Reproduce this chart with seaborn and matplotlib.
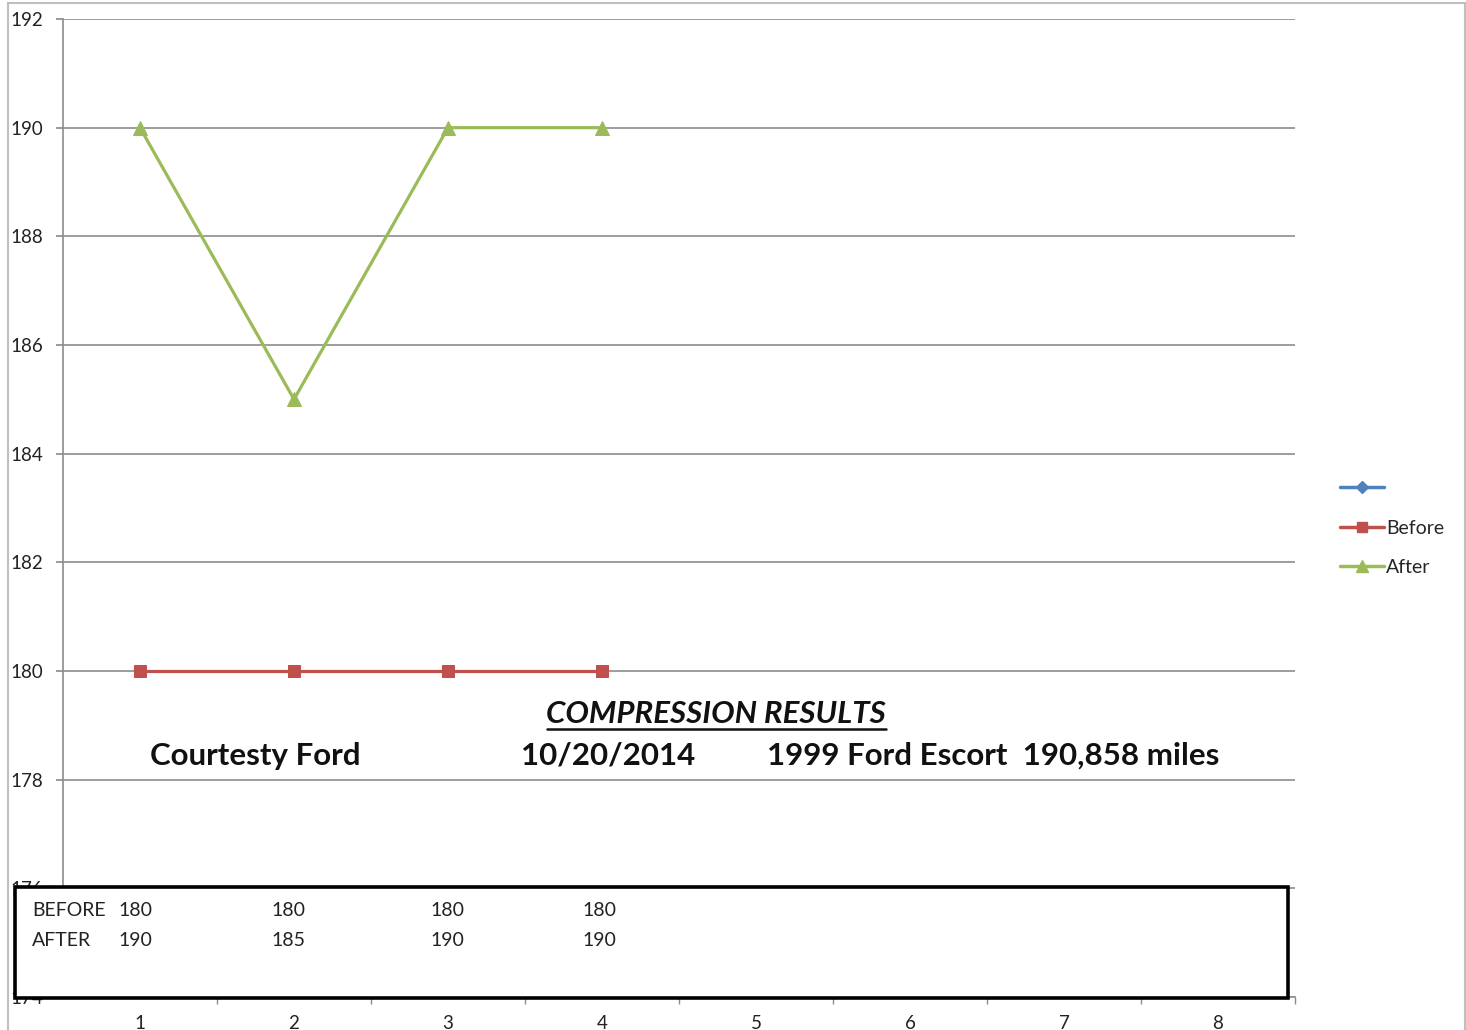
"""
Compression test chart - 1999 Ford Escort (Excel-style line chart rebuilt with seaborn).
"""
import pandas as pd
import matplotlib
matplotlib.use("Agg")
import matplotlib.pyplot as plt
from matplotlib.lines import Line2D
from matplotlib.patches import Rectangle
import seaborn as sns

# Data
cylinders = [1, 2, 3, 4]
before = [180, 180, 180, 180]
after = [190, 185, 190, 190]
x_ticks = [1, 2, 3, 4, 5, 6, 7, 8]
y_ticks = [174, 176, 178, 180, 182, 184, 186, 188, 190, 192]

BLUE = "#4F81BD"
RED = "#C0504D"
GREEN = "#9BBB59"
GRID = "#8C8C8C"

sns.set_theme(style="white")
plt.rcParams["font.family"] = ["Lato", "DejaVu Sans"]

df = pd.DataFrame({
    "cylindre": cylinders * 2,
    "pression": before + after,
    "serie": ["Before"] * 4 + ["After"] * 4,
})

fig = plt.figure(figsize=(14.66, 10.30), dpi=100)
ax = fig.add_axes([63 / 1466, 1 - 997 / 1030, (1295 - 63) / 1466, (997 - 19) / 1030])

sns.lineplot(data=df[df.serie == "Before"], x="cylindre", y="pression", color=RED,
             marker="s", markersize=9, markeredgecolor=RED, linewidth=2.3, ax=ax)
sns.lineplot(data=df[df.serie == "After"], x="cylindre", y="pression", color=GREEN,
             marker="^", markersize=10, markeredgecolor=GREEN, linewidth=2.3, ax=ax)

ax.set_xlim(0.5, 8.5)
ax.set_ylim(174, 192)
ax.set_yticks(y_ticks)
ax.set_yticklabels([str(v) for v in y_ticks], fontsize=13.5, color="#222222")
ax.set_xticks(x_ticks)
ax.set_xticklabels([str(v) for v in x_ticks], fontsize=13.5, color="#222222")
ax.set_xticks([1.5 + i for i in range(8)], minor=True)
ax.tick_params(axis="x", which="major", length=0, pad=13)
ax.tick_params(axis="x", which="minor", length=5, color=GRID, direction="out", bottom=True)
ax.tick_params(axis="y", length=5, color=GRID, direction="out", left=True, pad=9)
ax.set_xlabel("")
ax.set_ylabel("")
ax.yaxis.grid(True, color=GRID, linewidth=1.2)
for s in ["top", "right"]:
    ax.spines[s].set_visible(False)
for s in ["left", "bottom"]:
    ax.spines[s].set_color(GRID)
    ax.spines[s].set_linewidth(1.2)

# legende (serie bleue sans nom)
handles = [
    Line2D([], [], color=BLUE, marker="D", markersize=6, linewidth=2.5),
    Line2D([], [], color=RED, marker="s", markersize=7, linewidth=2.5),
    Line2D([], [], color=GREEN, marker="^", markersize=8, linewidth=2.5),
]
fig.legend(handles, ["", "Before", "After"], loc="center left",
           bbox_to_anchor=(1322 / 1466, 1 - 528 / 1030), frameon=False,
           fontsize=14, handlelength=2.3, handletextpad=0.1, labelspacing=1.15)

# textes
fig.text(716 / 1466, 1 - 714 / 1030, "COMPRESSION RESULTS", ha="center", va="center",
         fontsize=22.5, fontweight="bold", fontstyle="italic", color="#111111")
fig.add_artist(Line2D([547 / 1466, 886 / 1466], [1 - 729 / 1030] * 2,
                      color="#111111", linewidth=1.8, transform=fig.transFigure))
line2_y = 1 - 756 / 1030
fig.text(150 / 1466, line2_y, "Courtesty Ford", ha="left", va="center",
         fontsize=22.5, fontweight="bold", color="#111111")
fig.text(521 / 1466, line2_y, "10/20/2014", ha="left", va="center",
         fontsize=22.5, fontweight="bold", color="#111111")
fig.text(767 / 1466, line2_y, "1999 Ford Escort  190,858 miles", ha="left", va="center",
         fontsize=22.5, fontweight="bold", color="#111111")

# encadre des valeurs
fig.add_artist(Rectangle((15 / 1466, 1 - 998 / 1030), (1288 - 15) / 1466, (998 - 887) / 1030,
                         transform=fig.transFigure, facecolor="white", edgecolor="black",
                         linewidth=2.6))
cols_x = [118, 271, 430, 582]
for label, vals, yy in [("BEFORE", before, 911), ("AFTER", after, 941)]:
    fig.text(32 / 1466, 1 - yy / 1030, label, ha="left", va="center", fontsize=14, color="#222222")
    for cx, v in zip(cols_x, vals):
        fig.text(cx / 1466, 1 - yy / 1030, str(v), ha="left", va="center", fontsize=14, color="#222222")

# cadre du graphique
fig.add_artist(Rectangle((8 / 1466, -0.01), (1465 - 8) / 1466, 1 - 3 / 1030 + 0.01,
                         transform=fig.transFigure, facecolor="none", edgecolor="#BFBFBF",
                         linewidth=1.5))

plt.savefig("out.png", dpi=100)
plt.close()
